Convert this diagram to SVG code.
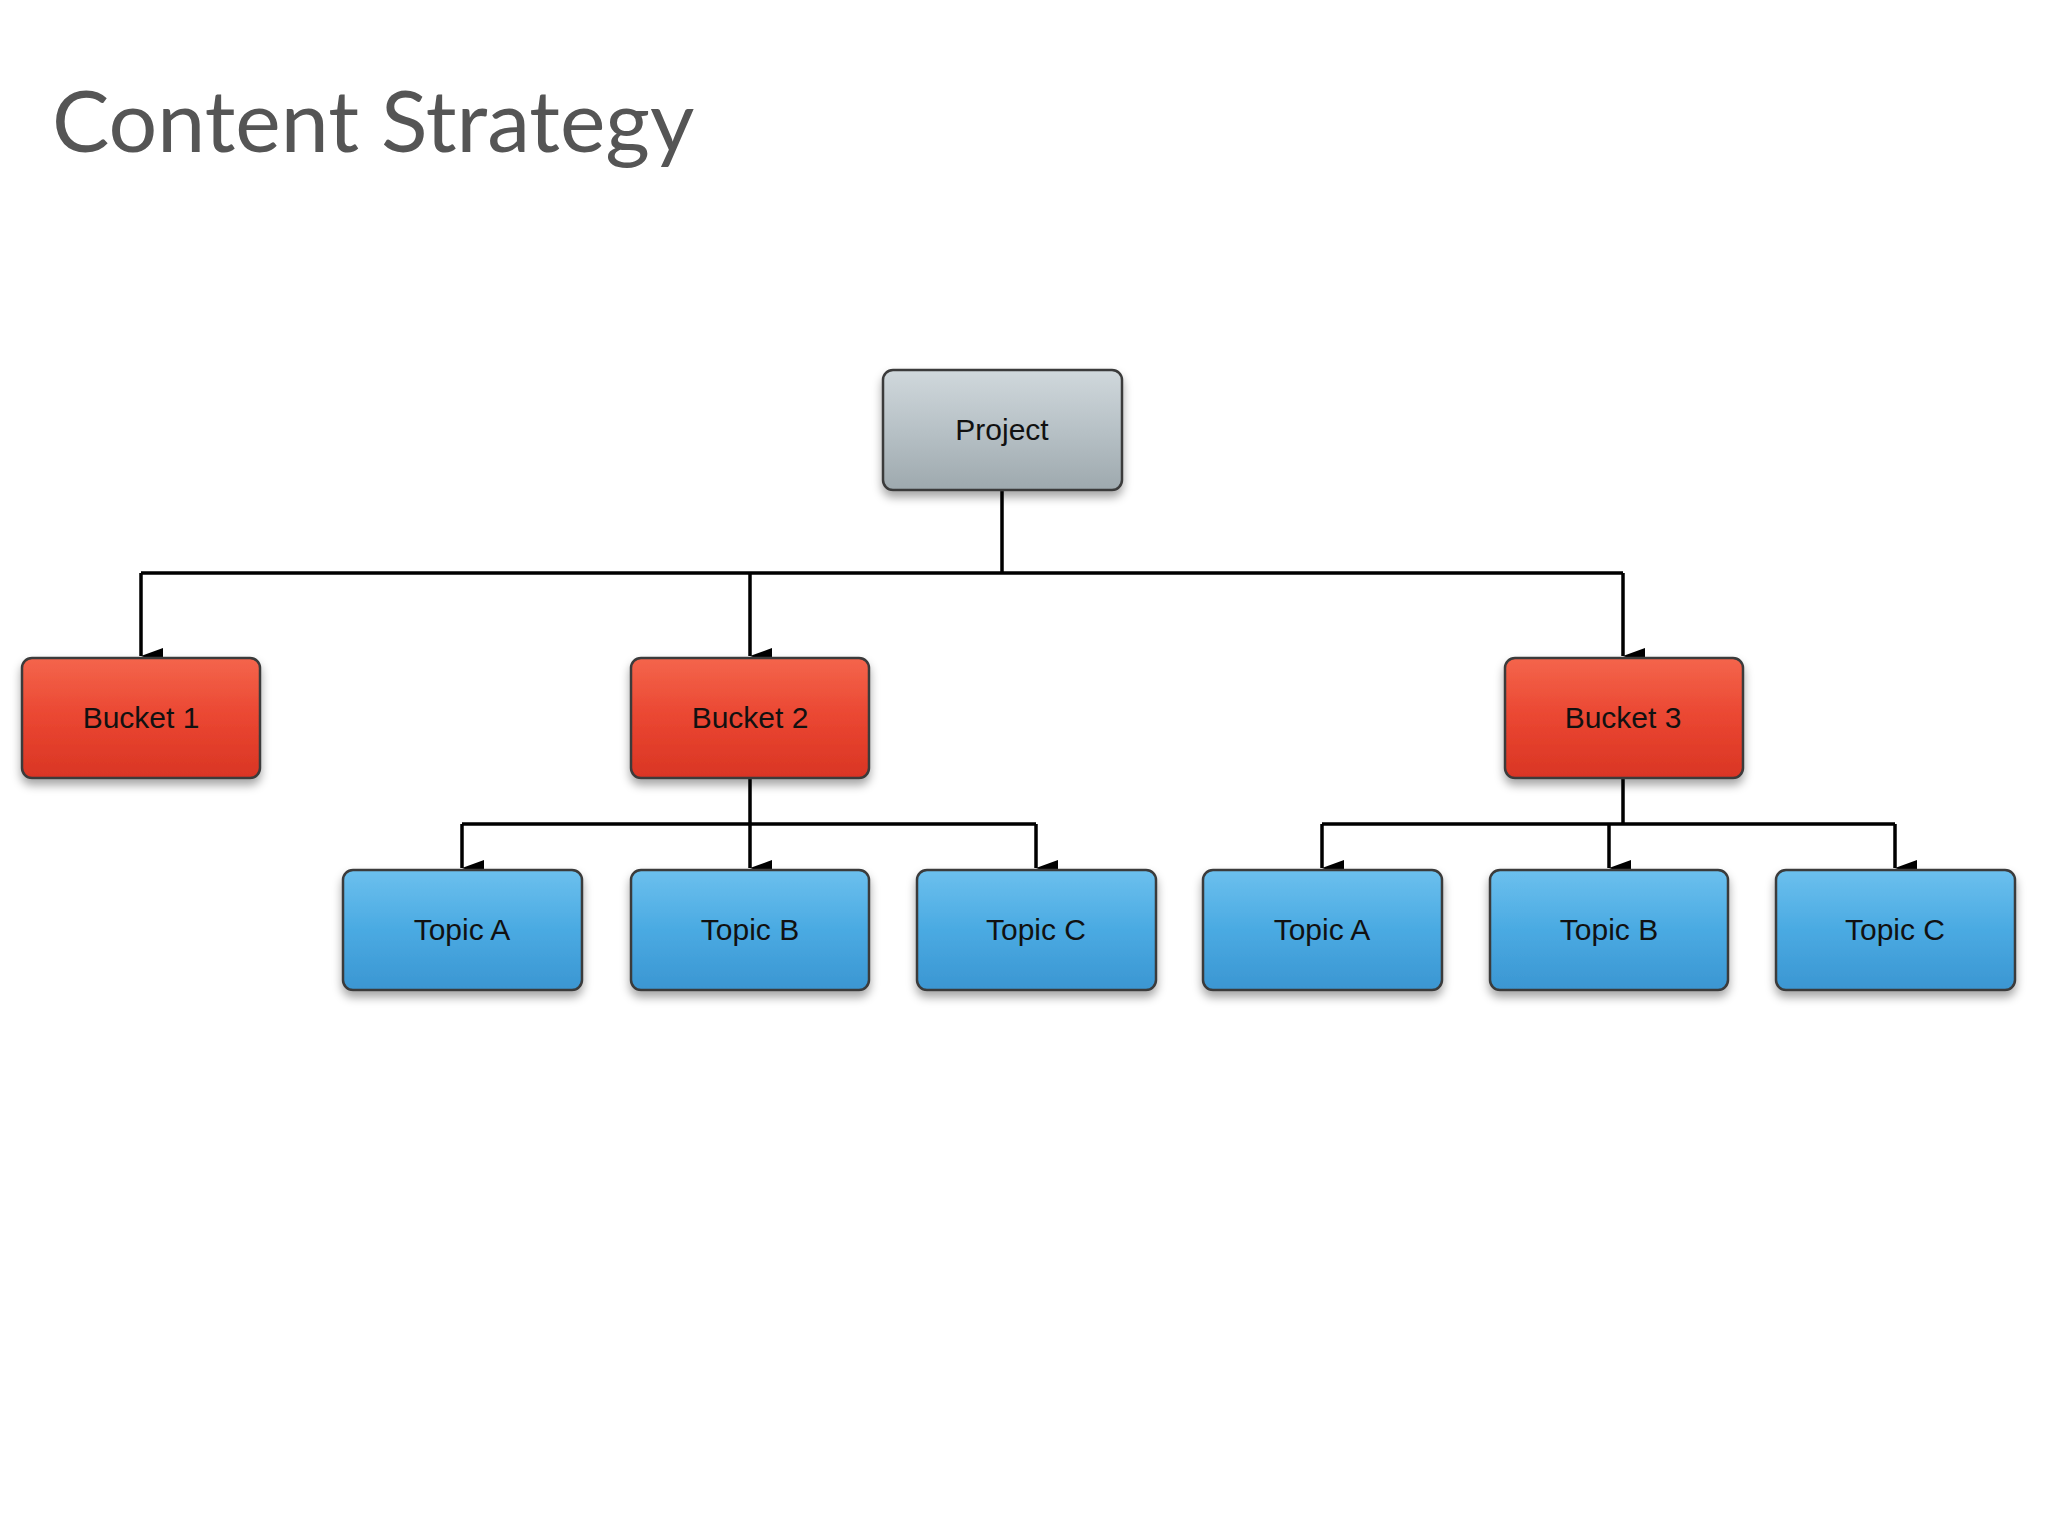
<svg xmlns="http://www.w3.org/2000/svg" width="2048" height="1536" viewBox="0 0 2048 1536">
<defs>
<linearGradient id="gRed" x1="0" y1="0" x2="0" y2="1"><stop offset="0" stop-color="#f4654c"/><stop offset="0.5" stop-color="#ea4631"/><stop offset="1" stop-color="#d93524"/></linearGradient>
<linearGradient id="gBlue" x1="0" y1="0" x2="0" y2="1"><stop offset="0" stop-color="#6cc0ee"/><stop offset="0.5" stop-color="#4aaae2"/><stop offset="1" stop-color="#3b96d2"/></linearGradient>
<linearGradient id="gGray" x1="0" y1="0" x2="0" y2="1"><stop offset="0" stop-color="#d0d8dc"/><stop offset="0.5" stop-color="#b7c1c6"/><stop offset="1" stop-color="#9ea9ae"/></linearGradient>
<filter id="sh" x="-10%" y="-10%" width="130%" height="140%"><feDropShadow dx="0" dy="6" stdDeviation="5" flood-color="#000" flood-opacity="0.35"/></filter>
<marker id="ah" viewBox="0 0 16 22" refX="8" refY="22" markerWidth="16" markerHeight="22" markerUnits="userSpaceOnUse" orient="auto-start-reverse"><path d="M0,0 L16,0 L8,22 Z" fill="#000"/></marker>
<style>
.box{stroke:#3a3a3a;stroke-width:2.5;filter:url(#sh)}
.red{fill:url(#gRed)} .blue{fill:url(#gBlue)} .gray{fill:url(#gGray)}
.lbl{font-family:"Liberation Sans",Arial,sans-serif;font-size:30px;fill:#111;text-anchor:middle;dominant-baseline:central}
.ln{fill:none;stroke:#000;stroke-width:3.5}
.arr{fill:none;stroke:#000;stroke-width:3.5;marker-end:url(#ah)}
</style>
</defs>
<rect width="2048" height="1536" fill="#fff"/>
<text x="52" y="152" font-family="Lato,'Open Sans',sans-serif" font-size="86" fill="#555">Content Strategy</text>
<g id="connectors">
<path class="ln" d="M1002,490 V573 M141,573 H1623"/>
<path class="arr" d="M141,573 V656"/>
<path class="arr" d="M750,573 V656"/>
<path class="arr" d="M1623,573 V656"/>
<path class="ln" d="M750,778 V824 M462,824 H1036"/>
<path class="arr" d="M462,824 V868"/>
<path class="arr" d="M750,824 V868"/>
<path class="arr" d="M1036,824 V868"/>
<path class="ln" d="M1623,778 V824 M1322,824 H1895"/>
<path class="arr" d="M1322,824 V868"/>
<path class="arr" d="M1609,824 V868"/>
<path class="arr" d="M1895,824 V868"/>
</g>
<g id="project"><rect class="box gray" x="883" y="370" width="239" height="120" rx="10"/><text class="lbl" x="1002" y="429">Project</text></g>
<g id="bucket1"><rect class="box red" x="22" y="658" width="238" height="120" rx="10"/><text class="lbl" x="141" y="717">Bucket 1</text></g>
<g id="bucket2"><rect class="box red" x="631" y="658" width="238" height="120" rx="10"/><text class="lbl" x="750" y="717">Bucket 2</text></g>
<g id="bucket3"><rect class="box red" x="1505" y="658" width="238" height="120" rx="10"/><text class="lbl" x="1623" y="717">Bucket 3</text></g>
<g id="topic2a"><rect class="box blue" x="343" y="870" width="239" height="120" rx="10"/><text class="lbl" x="462" y="929">Topic A</text></g>
<g id="topic2b"><rect class="box blue" x="631" y="870" width="238" height="120" rx="10"/><text class="lbl" x="750" y="929">Topic B</text></g>
<g id="topic2c"><rect class="box blue" x="917" y="870" width="239" height="120" rx="10"/><text class="lbl" x="1036" y="929">Topic C</text></g>
<g id="topic3a"><rect class="box blue" x="1203" y="870" width="239" height="120" rx="10"/><text class="lbl" x="1322" y="929">Topic A</text></g>
<g id="topic3b"><rect class="box blue" x="1490" y="870" width="238" height="120" rx="10"/><text class="lbl" x="1609" y="929">Topic B</text></g>
<g id="topic3c"><rect class="box blue" x="1776" y="870" width="239" height="120" rx="10"/><text class="lbl" x="1895" y="929">Topic C</text></g>
</svg>
